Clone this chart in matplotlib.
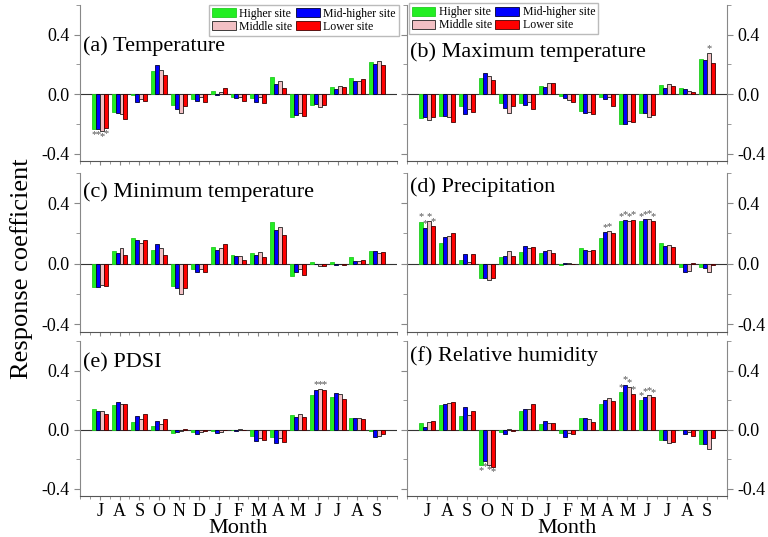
import numpy as np
import matplotlib.pyplot as plt
from matplotlib.ticker import MultipleLocator

plt.rcParams['font.family'] = ['Liberation Serif', 'DejaVu Serif']

months = ['J', 'A', 'S', 'O', 'N', 'D', 'J', 'F', 'M', 'A', 'M', 'J', 'J', 'A', 'S']
sites = ['Higher site', 'Mid-higher site', 'Middle site', 'Lower site']
colores = ['#22EE22', '#0000FF', '#F2C0C4', '#FF0000']
bordes = ['#22CC22', '#000033', '#202020', '#400000']

# (a) Temperature
temp_high = [-0.236, -0.117, -0.003, 0.157, -0.072, -0.030, 0.020, -0.016, -0.027, 0.112, -0.155, -0.072, 0.047, 0.108, 0.216]
temp_midh = [-0.236, -0.128, -0.050, 0.193, -0.097, -0.043, -0.003, -0.025, -0.054, 0.065, -0.142, -0.065, 0.036, 0.090, 0.202]
temp_mid = [-0.247, -0.135, -0.034, 0.164, -0.128, -0.022, 0.016, -0.016, -0.022, 0.085, -0.128, -0.088, 0.056, 0.090, 0.225]
temp_low = [-0.230, -0.166, -0.043, 0.128, -0.083, -0.056, 0.040, -0.047, -0.058, 0.040, -0.150, -0.076, 0.045, 0.100, 0.195]

# (b) Maximum temperature
tmax_high = [-0.160, -0.149, -0.080, 0.111, -0.058, -0.060, 0.053, -0.013, -0.111, -0.016, -0.200, -0.124, 0.060, 0.040, 0.236]
tmax_midh = [-0.155, -0.147, -0.133, 0.144, -0.093, -0.073, 0.047, -0.027, -0.127, -0.036, -0.198, -0.124, 0.040, 0.036, 0.229]
tmax_mid = [-0.173, -0.151, -0.100, 0.120, -0.127, -0.056, 0.073, -0.038, -0.122, -0.018, -0.180, -0.151, 0.067, 0.018, 0.273]
tmax_low = [-0.155, -0.189, -0.122, 0.096, -0.082, -0.100, 0.076, -0.053, -0.133, -0.080, -0.189, -0.140, 0.056, 0.013, 0.209]

# (c) Minimum temperature
tmin_high = [-0.153, 0.087, 0.167, 0.091, -0.149, -0.033, 0.109, 0.060, 0.073, 0.276, -0.082, 0.013, 0.013, 0.044, 0.082]
tmin_midh = [-0.153, 0.071, 0.158, 0.131, -0.162, -0.053, 0.091, 0.051, 0.058, 0.222, -0.053, -0.004, -0.007, 0.016, 0.082]
tmin_mid = [-0.140, 0.104, 0.136, 0.102, -0.200, -0.033, 0.107, 0.051, 0.080, 0.244, -0.038, -0.013, -0.004, 0.018, 0.069]
tmin_low = [-0.144, 0.058, 0.158, 0.060, -0.158, -0.053, 0.129, 0.022, 0.042, 0.193, -0.076, -0.018, -0.011, 0.027, 0.080]

# (d) Precipitation
prec_high = [0.276, 0.140, 0.022, -0.091, 0.047, 0.078, 0.073, -0.007, 0.102, 0.173, 0.280, 0.280, 0.136, -0.020, -0.020]
prec_midh = [0.233, 0.176, 0.064, -0.091, 0.053, 0.118, 0.084, 0.002, 0.091, 0.207, 0.289, 0.293, 0.118, -0.053, -0.027]
prec_mid = [0.280, 0.180, 0.013, -0.109, 0.087, 0.102, 0.091, 0.004, 0.082, 0.213, 0.280, 0.298, 0.122, -0.050, -0.052]
prec_low = [0.247, 0.204, 0.062, -0.093, 0.051, 0.109, 0.069, 0.000, 0.089, 0.200, 0.291, 0.280, 0.109, 0.007, -0.005]

# (e) PDSI
pdsi_high = [0.137, 0.165, 0.050, 0.023, -0.021, -0.016, -0.009, -0.002, -0.043, -0.050, 0.096, 0.235, 0.222, 0.078, -0.009]
pdsi_midh = [0.128, 0.187, 0.091, 0.057, -0.014, -0.027, -0.021, -0.009, -0.078, -0.091, 0.085, 0.270, 0.247, 0.078, -0.048]
pdsi_mid = [0.123, 0.171, 0.073, 0.039, -0.009, -0.016, -0.014, 0.002, -0.057, -0.059, 0.103, 0.274, 0.242, 0.078, -0.046]
pdsi_low = [0.105, 0.171, 0.105, 0.071, 0.004, -0.009, -0.005, -0.002, -0.071, -0.085, 0.087, 0.270, 0.206, 0.073, -0.027]

# (f) Relative humidity
rh_high = [0.045, 0.170, 0.092, -0.241, -0.013, 0.125, 0.040, -0.020, 0.080, 0.177, 0.253, 0.199, -0.072, -0.004, -0.096]
rh_midh = [0.016, 0.174, 0.152, -0.215, -0.027, 0.143, 0.058, -0.049, 0.080, 0.201, 0.302, 0.221, -0.072, -0.029, -0.096]
rh_mid = [0.051, 0.183, 0.098, -0.237, 0.007, 0.141, 0.047, -0.020, 0.072, 0.212, 0.286, 0.232, -0.087, -0.018, -0.130]
rh_low = [0.058, 0.188, 0.125, -0.250, -0.011, 0.172, 0.047, -0.029, 0.049, 0.194, 0.241, 0.219, -0.083, -0.042, -0.054]

# significancia: (mes, sitio)
sig_a = [(0, 0), (0, 1), (0, 2), (0, 3)]
sig_b = [(14, 2)]
sig_c = []
sig_d = [(0, 0), (0, 1), (0, 2), (0, 3), (9, 1), (9, 2)] + [(m, s) for m in (10, 11) for s in range(4)]
sig_e = [(11, 1), (11, 2), (11, 3)]
sig_f = [(3, s) for s in range(4)] + [(m, s) for m in (10, 11) for s in range(4)]

paneles = [
    ('(a) Temperature', [temp_high, temp_midh, temp_mid, temp_low], sig_a, 0.735),
    ('(b) Maximum temperature', [tmax_high, tmax_midh, tmax_mid, tmax_low], sig_b, 0.70),
    ('(c) Minimum temperature', [tmin_high, tmin_midh, tmin_mid, tmin_low], sig_c, 0.88),
    ('(d) Precipitation', [prec_high, prec_midh, prec_mid, prec_low], sig_d, 0.91),
    ('(e) PDSI', [pdsi_high, pdsi_midh, pdsi_mid, pdsi_low], sig_e, 0.86),
    ('(f) Relative humidity', [rh_high, rh_midh, rh_mid, rh_low], sig_f, 0.90),
]

fig = plt.figure(figsize=(7.68, 5.37), dpi=100)
izq = [0.104, 0.530]
ancho = [0.413, 0.417]
filas = [(0.700, 0.291), (0.382, 0.296), (0.076, 0.289)]

x = np.arange(1, len(months) + 1)
w = 0.2
gris = '#888888'
orden = [0, 2, 1, 3]  # filas del legend: Higher, Mid-higher / Middle, Lower

for k, (titulo, series, sig, ty) in enumerate(paneles):
    col, fila = k % 2, k // 2
    ax = fig.add_axes([izq[col], filas[fila][0], ancho[col], filas[fila][1]])
    barras = []
    for i, vals in enumerate(series):
        b = ax.bar(x + (i - 1.5) * w, vals, w, color=colores[i], edgecolor=bordes[i],
                   linewidth=0.6, label=sites[i], zorder=3)
        barras.append(b)
    for m, s in sig:
        v = series[s][m]
        xs = x[m] + (s - 1.5) * w
        if v >= 0:
            ax.text(xs, v + 0.003, '*', ha='center', va='bottom', fontsize=7.5, color='#555555')
        else:
            ax.text(xs, v - 0.006, '*', ha='center', va='top', fontsize=7.5, color='#555555')
    ax.axhline(0, color='#333333', linewidth=0.8, zorder=2)
    ax.set_xlim(0, 16)
    ax.set_ylim(-0.45, 0.6)
    ax.set_yticks([-0.4, 0.0, 0.4])
    ax.set_yticklabels(['-0.4', '0.0', '0.4'])
    ax.yaxis.set_minor_locator(MultipleLocator(0.2))
    ax.set_xticks(x)
    ax.xaxis.set_minor_locator(MultipleLocator(0.5))
    ax.spines['top'].set_visible(False)
    for sp in ['left', 'right', 'bottom']:
        ax.spines[sp].set_color(gris)
    ax.spines['bottom'].set_color('#555555')
    ax.tick_params(axis='both', which='both', colors=gris, labelcolor='black', labelsize=13)
    ax.tick_params(axis='x', which='major', length=3, pad=2)
    ax.tick_params(axis='x', which='minor', length=2)
    ax.tick_params(axis='y', which='major', length=4)
    ax.tick_params(axis='y', which='minor', length=3)
    if col == 0:
        ax.spines['right'].set_visible(False)
    else:
        ax.yaxis.tick_right()
        ax.yaxis.set_label_position('right')
        ax.tick_params(axis='y', which='both', left=True)
    if fila == 2:
        ax.set_xticklabels(months, fontsize=13)
        ax.set_xlabel('Month', fontsize=16, labelpad=-1)
    else:
        ax.set_xticklabels([])
    ax.text(0.01, ty, titulo, transform=ax.transAxes, fontsize=16, va='center', ha='left')
    if k in (0, 1):
        hs = [barras[j] for j in orden]
        ls = [sites[j] for j in orden]
        if k == 0:
            pos = dict(loc='upper right', bbox_to_anchor=(1.005, 1.0))
        else:
            pos = dict(loc='upper left', bbox_to_anchor=(0.005, 1.01))
        ax.legend(hs, ls, ncol=2, fontsize=8.5, frameon=True, fancybox=False,
                  edgecolor='#aaaaaa', borderpad=0.25, borderaxespad=0,
                  handlelength=2.0, handleheight=0.8, handletextpad=0.3,
                  columnspacing=0.3, labelspacing=0.1, **pos)

fig.text(0.028, 0.5, 'Response coefficient', rotation=90, fontsize=19, va='center', ha='center')

plt.savefig('out.png', dpi=100)
